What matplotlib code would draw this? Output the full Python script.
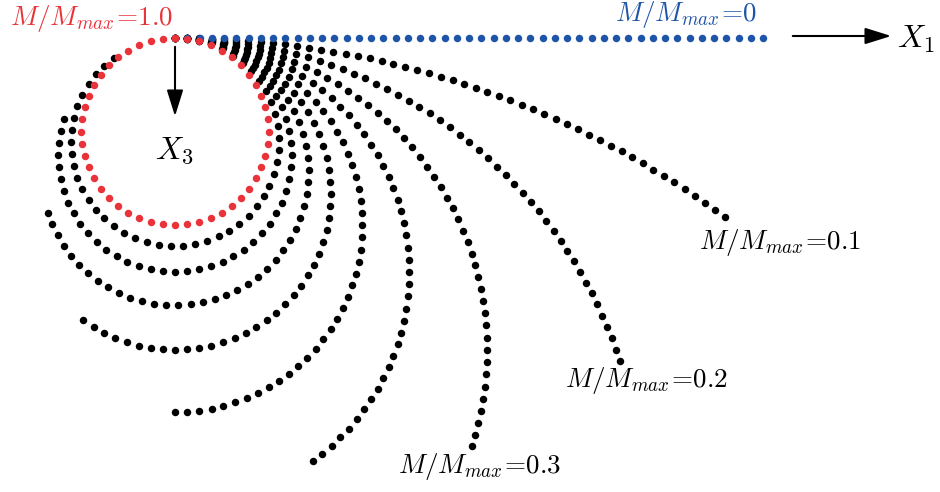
import numpy as np
import matplotlib
matplotlib.use("Agg")
import matplotlib.pyplot as plt

plt.rcParams['mathtext.fontset'] = 'cm'

# moment ratios M/Mmax for each deformed beam shape
moment_ratios = [0.0, 0.1, 0.2, 0.3, 0.4, 0.5, 0.6, 0.7, 0.8, 0.9, 1.0]
curve_colors = ['#1f55a8'] + ['black'] * 9 + ['#e8333a']
labels = {0.0: r'$M/M_{max}\!=\!0$', 0.1: r'$M/M_{max}\!=\!0.1$',
          0.2: r'$M/M_{max}\!=\!0.2$', 0.3: r'$M/M_{max}\!=\!0.3$',
          1.0: r'$M/M_{max}\!=\!1.0$'}

beam_length = 588.0   # beam length in drawing units
n_points = 49         # nodes along the beam
clamp = (175.0, 38.0)

fig = plt.figure(figsize=(9.4, 4.92), dpi=100)
ax = fig.add_axes([0, 0, 1, 1])
ax.set_xlim(0, 940)
ax.set_ylim(492, 0)
ax.axis('off')

s = np.linspace(0, beam_length, n_points)

def beam_shape(m):
    # pure bending: constant curvature kappa = 2*pi*m / L
    if m == 0:
        return clamp[0] + s, clamp[1] + 0 * s
    R = beam_length / (2 * np.pi * m)
    th = s / R
    return clamp[0] + R * np.sin(th), clamp[1] + R * (1 - np.cos(th))

order = list(range(1, 10)) + [0, 10]
for i in order:
    x, y = beam_shape(moment_ratios[i])
    ax.scatter(x, y, s=29, color=curve_colors[i], linewidths=0, zorder=2 + (i in (0, 10)))

fs = 19.5
ax.text(92, 18, labels[1.0], color='#e8333a', fontsize=fs, ha='center', va='center')
ax.text(686, 15, labels[0.0], color='#1f55a8', fontsize=fs, ha='center', va='center')
ax.text(780, 242, labels[0.1], color='black', fontsize=fs, ha='center', va='center')
ax.text(647, 381, labels[0.2], color='black', fontsize=fs, ha='center', va='center')
ax.text(480, 467, labels[0.3], color='black', fontsize=fs, ha='center', va='center')

# axis arrows
ax.annotate('', xy=(894, 36), xytext=(790, 36),
            arrowprops=dict(arrowstyle='-|>,head_length=1.6,head_width=0.5',
                            color='black', lw=1.5))
ax.annotate('', xy=(175, 119), xytext=(175, 44),
            arrowprops=dict(arrowstyle='-|>,head_length=1.6,head_width=0.5',
                            color='black', lw=1.5))
ax.text(916, 39, r'$X_1$', fontsize=23, ha='center', va='center')
ax.text(174, 150, r'$X_3$', fontsize=23, ha='center', va='center')

fig.savefig('out.png', dpi=100)
